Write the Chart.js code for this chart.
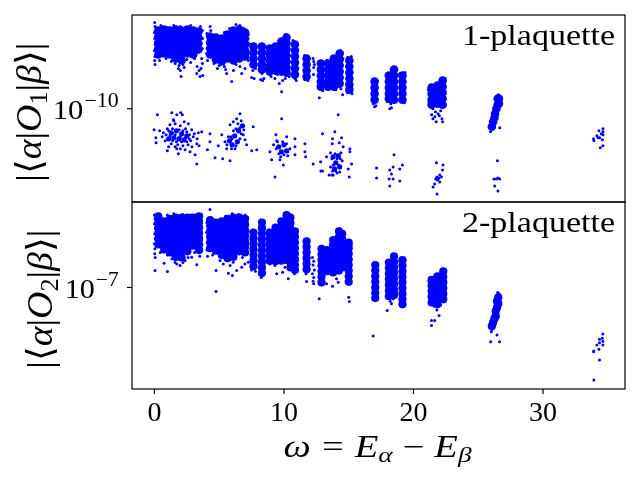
<!DOCTYPE html>
<html><head><meta charset="utf-8">
<script src="https://cdn.jsdelivr.net/npm/chart.js@4"></script>
<style>html,body{margin:0;padding:0;background:#fff;}canvas{display:block;}</style>
</head><body>
<canvas id="c" width="640" height="480"></canvas>
<script>
// ---------------- DATA ----------------
// x = omega = E_alpha - E_beta ; values given as log10 |<alpha|O|beta>|
const omegaTicks = [0, 10, 20, 30];
const panelNames = ['1-plaquette', '2-plaquette'];
const yTickExponents = [-10, -7];
const omegaRange = [-1.73, 36.33];
const top1LogRange = [-10.93, -9.066];
const bot2LogRange = [-7.814, -6.315];

// 1-plaquette: dense clusters, grouped by omega column
const top1Dense = [
 [0.3,[-9.22,-9.28,-9.34,-9.40,-9.46]],[0.75,[-9.21,-9.27,-9.33,-9.39,-9.45]],
 [1.2,[-9.22,-9.28,-9.34,-9.40,-9.46]],[1.65,[-9.21,-9.27,-9.33,-9.39,-9.45,-9.50]],
 [2.1,[-9.22,-9.28,-9.34,-9.40,-9.46,-9.52]],[2.55,[-9.21,-9.27,-9.33,-9.39,-9.45]],
 [3.0,[-9.22,-9.28,-9.34,-9.40,-9.46]],[3.4,[-9.23,-9.29,-9.35,-9.41]],
 [4.3,[-9.28,-9.34,-9.40,-9.46]],[4.75,[-9.29,-9.35,-9.41,-9.47,-9.51]],
 [5.2,[-9.30,-9.36,-9.42,-9.48,-9.53]],[5.65,[-9.26,-9.32,-9.38,-9.44,-9.50]],
 [6.1,[-9.22,-9.28,-9.34,-9.40,-9.46,-9.52]],[6.55,[-9.21,-9.27,-9.33,-9.39,-9.45,-9.50]],
 [7.0,[-9.24,-9.30,-9.36,-9.42,-9.48]],[7.65,[-9.38,-9.44,-9.50,-9.56]],
 [8.3,[-9.38,-9.44,-9.50,-9.56,-9.61]],[8.9,[-9.40,-9.46,-9.52,-9.58,-9.63]],
 [9.35,[-9.38,-9.44,-9.50,-9.56,-9.62]],[9.8,[-9.33,-9.39,-9.45,-9.51,-9.57,-9.63]],
 [10.2,[-9.29,-9.35,-9.41,-9.47,-9.53,-9.59,-9.64]],[10.85,[-9.36,-9.42,-9.48,-9.54,-9.60,-9.66]],
 [11.75,[-9.50,-9.56,-9.62,-9.68]],[12.85,[-9.55,-9.61,-9.67,-9.73,-9.78]],
 [13.4,[-9.55,-9.61,-9.67,-9.73,-9.78]],[13.85,[-9.50,-9.56,-9.62,-9.68,-9.74,-9.78]],
 [14.3,[-9.45,-9.51,-9.57,-9.63,-9.69,-9.75]],[15.05,[-9.52,-9.58,-9.64,-9.70,-9.76,-9.81]],
 [17.0,[-9.73,-9.79,-9.85,-9.91]],[18.1,[-9.67,-9.73,-9.79,-9.85,-9.90]],
 [18.5,[-9.61,-9.67,-9.73,-9.79,-9.85,-9.91]],[19.15,[-9.67,-9.73,-9.79,-9.85,-9.91]],
 [21.4,[-9.79,-9.85,-9.91,-9.96]],[21.85,[-9.77,-9.83,-9.89,-9.95]],
 [22.25,[-9.72,-9.78,-9.84,-9.90,-9.96]],
 [26.6,[-9.90,-9.95]],[26.5,[-9.90,-9.96]],[26.4,[-10.0]],[26.3,[-10.05]],
 [26.25,[-10.09]],[26.15,[-10.13]],[26.05,[-10.18]]
];
// 1-plaquette: lower band cluster centres
const top1Mid = [
 [1.1,[-10.30]],[1.3,[-10.24]],[1.5,[-10.29]],[1.7,[-10.22]],[1.9,[-10.30]],[2.1,[-10.25]],
 [2.3,[-10.31]],[2.5,[-10.27]],
 [5.8,[-10.32]],[6.0,[-10.36]],[6.2,[-10.27]],[6.4,[-10.33]],[6.5,[-10.22]],[6.8,[-10.17]],
 [9.6,[-10.38]],[9.8,[-10.43]],[10.0,[-10.36]],[10.2,[-10.42]],
 [13.8,[-10.48]],[13.9,[-10.60]],[14.0,[-10.54]],[14.2,[-10.47]],[14.3,[-10.58]]
];
// 1-plaquette: individual scattered points [omega, log10]
const top1Sparse = [
 [0.02,-9.14],[0.05,-9.18],[0.0,-9.24],[0.03,-9.30],[0.06,-9.36],[0.0,-9.42],[0.04,-9.48],[0.02,-9.52],[0.05,-9.56],
 [0.5,-9.17],[1.0,-9.19],[1.5,-9.17],[2.0,-9.18],[2.4,-9.19],[2.8,-9.17],[3.55,-9.18],[3.6,-9.21],
 [0.4,-9.52],[0.9,-9.50],[1.3,-9.53],[1.6,-9.55],[1.9,-9.57],[2.0,-9.62],[2.2,-9.56],[2.5,-9.51],[2.8,-9.54],
 [3.1,-9.50],[3.3,-9.58],[3.45,-9.62],[3.6,-9.60],[3.7,-9.55],[3.65,-9.50],[3.7,-9.40],[3.72,-9.30],[3.7,-9.22],
 [2.06,-9.68],[3.27,-9.65],[3.52,-9.68],[3.73,-9.67],[1.85,-9.60],[2.3,-9.59],[1.4,-9.51],
 [4.05,-9.25],[4.1,-9.35],[4.02,-9.45],[4.1,-9.52],[4.3,-9.18],[4.35,-9.22],[4.6,-9.55],[5.0,-9.57],[5.4,-9.58],[5.5,-9.61],
 [5.97,-9.73],[5.58,-9.65],[4.86,-9.60],[6.74,-9.65],[7.0,-9.60],[6.3,-9.56],[6.6,-9.58],[6.1,-9.62],
 [6.3,-9.16],[6.6,-9.17],[6.9,-9.20],[7.25,-9.26],[7.3,-9.35],[7.28,-9.45],[5.8,-9.20],[5.4,-9.24],[7.25,-9.52],
 [7.5,-9.69],[7.7,-9.70],[8.2,-9.71],[8.35,-9.72],[8.45,-9.70],[7.55,-9.36],[7.85,-9.40],[8.15,-9.36],[8.45,-9.38],
 [7.6,-9.62],[8.3,-9.65],[7.8,-9.60],[8.4,-9.60],
 [9.0,-9.68],[9.3,-9.70],[9.5,-9.66],[9.82,-9.83],[9.64,-9.75],[9.9,-9.72],[10.1,-9.70],[10.4,-9.68],[10.95,-9.72],
 [10.7,-9.32],[10.1,-9.26],[9.9,-9.30],[8.75,-9.38],[8.8,-9.60],[10.9,-9.34],[10.6,-9.66],[10.85,-9.70],
 [11.6,-9.47],[11.9,-9.49],[11.6,-9.71],[11.85,-9.72],
 [12.25,-9.50],[12.3,-9.53],[12.35,-9.56],[12.28,-9.66],[12.3,-9.59],
 [12.7,-9.53],[13.0,-9.55],[12.7,-9.80],[13.0,-9.82],[12.73,-9.89],
 [13.3,-9.52],[14.5,-9.44],[14.35,-9.42],[14.55,-9.50],[13.5,-9.80],[14.0,-9.81],[14.4,-9.80],[14.53,-9.86],[14.19,-10.06],[13.7,-9.49],
 [14.9,-9.49],[15.2,-9.48],[15.25,-9.85],[14.9,-9.84],
 [16.85,-9.71],[17.2,-9.72],[16.9,-9.95],[17.1,-9.97],[17.0,-9.98],
 [17.95,-9.66],[18.6,-9.59],[18.65,-9.65],[18.0,-9.93],[18.3,-9.99],[18.17,-10.0],[18.25,-9.95],[18.65,-9.93],
 [18.95,-9.65],[19.35,-9.64],[19.0,-9.93],[19.3,-9.94],
 [21.15,-9.81],[21.2,-9.93],[22.45,-9.70],[22.4,-9.74],[21.5,-10.0],[21.7,-10.03],[21.9,-10.05],[22.1,-10.02],
 [21.4,-10.06],[21.65,-10.08],[22.0,-10.07],[22.2,-10.10],[21.5,-10.10],[21.75,-10.13],[22.25,-10.13],
 [25.95,-10.23],[26.0,-10.20],[26.1,-10.19],[26.6,-9.87],[26.65,-9.90],[26.55,-9.86],[26.3,-10.0],[26.66,-10.19],
 [33.9,-10.30],[33.93,-10.32],[34.16,-10.27],[34.32,-10.22],[34.37,-10.29],[34.5,-10.25],[34.63,-10.20],[34.63,-10.23],
 [34.63,-10.26],[34.58,-10.31],[34.42,-10.39],[34.63,-10.37],[34.25,-10.29],
 [-0.02,-10.21],[0.23,-10.06],[0.11,-10.29],[0.13,-10.34],[0.69,-10.24],[0.83,-10.32],[1.0,-10.42],[1.34,-10.04],
 [1.47,-10.11],[1.73,-10.06],[2.03,-10.04],[2.16,-10.06],[2.62,-10.15],[2.88,-10.21],[3.08,-10.25],[3.39,-10.24],
 [3.65,-10.23],[3.27,-10.35],[3.45,-10.37],[3.14,-10.46],[3.27,-10.55],[2.37,-10.41],[1.73,-10.40],[1.85,-10.45],[2.75,-10.43],
 [1.0,-10.20],[1.2,-10.16],[1.6,-10.15],[2.0,-10.17],[2.4,-10.20],[2.7,-10.26],[2.8,-10.32],[2.6,-10.36],[2.2,-10.37],
 [1.8,-10.36],[1.3,-10.35],[0.9,-10.26],[1.5,-10.12],[2.3,-10.13],
 [1.1,-10.22],[1.4,-10.20],[1.9,-10.21],[2.2,-10.22],[2.5,-10.23],[1.2,-10.27],[1.6,-10.26],[2.0,-10.28],[2.4,-10.29],
 [2.7,-10.30],[1.4,-10.32],[1.7,-10.33],[2.1,-10.33],[2.5,-10.33],[0.6,-10.28],[0.4,-10.22],[3.0,-10.28],[3.3,-10.30],
 [2.9,-10.38],[1.1,-10.38],[1.6,-10.38],[2.0,-10.40],
 [4.29,-10.25],[4.29,-10.33],[4.09,-10.41],[4.68,-10.49],[5.27,-10.50],[5.84,-10.52],[4.93,-10.37],[6.61,-10.05],
 [6.35,-10.10],[6.09,-10.13],[7.12,-10.36],[7.51,-10.42],[7.9,-10.41],[7.63,-10.18],[5.45,-10.33],[5.58,-10.40],
 [6.86,-10.26],[7.0,-10.31],[5.2,-10.26],[6.22,-10.40],[6.48,-10.23],[5.84,-10.16],
 [5.9,-10.28],[6.1,-10.22],[6.3,-10.20],[6.6,-10.19],[6.7,-10.25],[6.9,-10.21],[6.0,-10.30],[5.6,-10.36],[5.7,-10.28],
 [6.3,-10.37],[6.6,-10.30],[5.95,-10.40],[6.45,-10.15],[6.7,-10.12],
 [9.82,-10.10],[9.38,-10.26],[9.44,-10.32],[8.92,-10.43],[10.85,-10.30],[10.85,-10.38],[10.85,-10.46],[9.31,-10.68],
 [9.05,-10.51],[9.95,-10.56],[10.21,-10.28],[10.46,-10.40],[9.69,-10.51],[11.62,-10.35],[11.62,-10.43],[11.67,-10.48],
 [9.2,-10.36],[10.3,-10.47],
 [9.4,-10.40],[9.6,-10.45],[10.0,-10.46],[10.2,-10.35],[9.9,-10.33],[9.5,-10.33],[9.75,-10.48],[10.3,-10.43],
 [12.26,-10.55],[12.98,-10.25],[12.83,-10.53],[12.85,-10.62],[12.98,-10.62],
 [13.93,-10.23],[13.75,-10.30],[14.45,-10.29],[14.27,-10.34],[13.73,-10.35],[14.57,-10.38],[15.09,-10.40],[15.09,-10.43],
 [15.22,-10.55],[14.96,-10.60],[15.04,-10.68],[13.49,-10.66],[13.8,-10.66],[13.29,-10.48],[13.6,-10.44],[14.4,-10.44],
 [14.5,-10.52],[13.6,-10.58],[14.1,-10.64],[13.7,-10.66],
 [13.7,-10.50],[14.1,-10.50],[13.8,-10.56],[14.2,-10.56],[14.35,-10.50],[13.95,-10.45],[14.0,-10.62],[13.75,-10.62],[14.3,-10.63],
 [17.15,-10.59],[17.15,-10.69],[18.17,-10.61],[18.3,-10.65],[18.12,-10.70],[18.5,-10.46],[18.94,-10.60],[19.15,-10.56],
 [18.94,-10.72],[18.17,-10.77],[18.43,-10.70],[18.43,-10.58],
 [21.77,-10.54],[22.28,-10.56],[22.24,-10.61],[22.03,-10.66],[21.9,-10.70],[21.72,-10.70],[21.64,-10.75],[22.03,-10.73],
 [21.51,-10.78],[21.82,-10.85],[22.16,-10.68],[21.85,-10.71],[21.95,-10.69],[21.8,-10.68],
 [26.48,-10.52],[26.21,-10.70],[26.4,-10.70],[26.52,-10.69],[26.66,-10.70],[26.27,-10.77],[26.52,-10.82]
];

// 2-plaquette: dense clusters, grouped by omega column
const bot2Dense = [
 [0.3,[-6.43,-6.475,-6.52,-6.565,-6.61,-6.655]],[0.75,[-6.47,-6.515,-6.56,-6.605,-6.65,-6.695]],
 [1.2,[-6.45,-6.495,-6.54,-6.585,-6.63,-6.675,-6.72]],[1.65,[-6.44,-6.485,-6.53,-6.575,-6.62,-6.665,-6.71,-6.755]],
 [2.1,[-6.44,-6.485,-6.53,-6.575,-6.62,-6.665,-6.71,-6.76]],[2.55,[-6.44,-6.485,-6.53,-6.575,-6.62,-6.665,-6.71]],
 [3.0,[-6.44,-6.485,-6.53,-6.575,-6.62,-6.665]],[3.45,[-6.43,-6.475,-6.52,-6.565,-6.61,-6.655,-6.70]],
 [4.3,[-6.46,-6.505,-6.55,-6.595,-6.64,-6.685]],[4.75,[-6.48,-6.525,-6.57,-6.615,-6.66,-6.705]],
 [5.2,[-6.47,-6.515,-6.56,-6.605,-6.65,-6.695,-6.74]],[5.65,[-6.45,-6.495,-6.54,-6.585,-6.63,-6.675,-6.72,-6.765]],
 [6.1,[-6.44,-6.485,-6.53,-6.575,-6.62,-6.665,-6.71,-6.755]],[6.55,[-6.44,-6.485,-6.53,-6.575,-6.62,-6.665,-6.71]],
 [7.0,[-6.45,-6.495,-6.54,-6.585,-6.63,-6.675,-6.72]],[7.65,[-6.56,-6.605,-6.65,-6.695,-6.74,-6.785,-6.83]],
 [8.3,[-6.48,-6.525,-6.57,-6.615,-6.66,-6.705,-6.75,-6.795,-6.84,-6.885]],
 [8.9,[-6.56,-6.605,-6.65,-6.695,-6.74,-6.785]],[9.35,[-6.52,-6.565,-6.61,-6.655,-6.70,-6.745,-6.79]],
 [9.8,[-6.47,-6.515,-6.56,-6.605,-6.65,-6.695,-6.74,-6.785]],
 [10.2,[-6.42,-6.465,-6.51,-6.555,-6.60,-6.645,-6.69,-6.735,-6.78]],
 [10.5,[-6.44,-6.485,-6.53,-6.575,-6.62,-6.665,-6.71,-6.755,-6.80,-6.84]],
 [10.85,[-6.55,-6.595,-6.64,-6.685,-6.73,-6.775,-6.82,-6.86]],[11.75,[-6.63,-6.675,-6.72,-6.765,-6.81,-6.855]],
 [12.9,[-6.69,-6.735,-6.78,-6.825,-6.87,-6.915,-6.96]],[13.35,[-6.70,-6.745,-6.79,-6.835,-6.87]],
 [13.8,[-6.62,-6.665,-6.71,-6.755,-6.80,-6.845,-6.88]],[14.25,[-6.55,-6.595,-6.64,-6.685,-6.73,-6.775,-6.82,-6.865]],
 [14.5,[-6.57,-6.615,-6.66,-6.705,-6.75,-6.795,-6.84]],[15.0,[-6.64,-6.685,-6.73,-6.775,-6.82,-6.865,-6.91,-6.955]],
 [17.05,[-6.82,-6.865,-6.91,-6.955,-7.0,-7.045,-7.085]],[18.1,[-6.80,-6.845,-6.89,-6.935,-6.98,-7.025,-7.07]],
 [18.5,[-6.75,-6.795,-6.84,-6.885,-6.93,-6.975,-7.02,-7.06]],
 [19.15,[-6.78,-6.825,-6.87,-6.915,-6.96,-7.005,-7.05,-7.095,-7.135]],
 [21.4,[-6.94,-6.985,-7.03,-7.075,-7.12]],[21.85,[-6.91,-6.955,-7.0,-7.045,-7.09,-7.135]],
 [22.3,[-6.87,-6.915,-6.96,-7.005,-7.05,-7.095]],
 [26.55,[-7.08,-7.13]],[26.45,[-7.11,-7.16]],[26.35,[-7.19,-7.23]],[26.25,[-7.25]],[26.15,[-7.28]],[26.05,[-7.31]]
];
// 2-plaquette: individual scattered points [omega, log10]
const bot2Sparse = [
 [0.0,-6.42],[0.05,-6.45],[0.0,-6.49],[0.08,-6.53],[0.02,-6.57],[0.06,-6.61],[0.0,-6.65],[0.04,-6.69],[0.02,-6.73],[0.06,-6.76],
 [0.05,-6.864],[1.0,-6.872],[0.75,-6.806],[1.73,-6.811],[1.98,-6.824],[3.27,-6.819],[2.37,-6.784],[2.88,-6.758],
 [0.45,-6.72],[1.0,-6.74],[1.35,-6.77],[2.6,-6.76],[3.1,-6.72],[3.5,-6.75],[3.65,-6.70],[3.62,-6.60],[3.6,-6.45],
 [3.65,-6.42],[1.0,-6.42],[1.5,-6.41],[2.2,-6.415],[2.8,-6.42],[0.5,-6.44],[1.6,-6.80],[2.2,-6.80],
 [4.29,-6.376],[4.05,-6.48],[4.02,-6.56],[4.08,-6.64],[4.05,-6.70],[4.1,-6.75],
 [4.76,-6.864],[5.71,-6.886],[6.02,-6.904],[6.35,-6.864],[6.74,-6.838],[6.99,-6.811],[7.25,-6.798],[4.76,-7.032],
 [5.07,-6.784],[5.32,-6.811],[5.84,-6.824],[6.09,-6.798],[4.5,-6.74],[6.8,-6.76],
 [5.5,-6.43],[6.0,-6.41],[6.5,-6.415],[7.0,-6.42],[7.2,-6.44],[7.25,-6.55],[7.22,-6.65],
 [7.5,-6.86],[7.8,-6.87],[7.65,-6.55],[8.2,-6.46],[8.45,-6.48],[8.25,-6.92],[8.4,-6.90],
 [8.92,-6.811],[9.31,-6.824],[10.08,-6.838],[10.33,-6.931],[9.44,-6.891],[9.9,-6.878],[10.2,-6.40],[10.5,-6.42],
 [8.8,-6.54],[10.7,-6.55],[10.95,-6.56],[10.8,-6.89],
 [11.75,-6.952],[11.6,-6.62],[11.9,-6.63],[11.7,-6.89],
 [12.2,-6.76],[12.3,-6.79],[12.25,-6.82],[12.35,-6.86],[12.2,-6.89],[12.3,-6.92],[12.25,-6.95],[12.3,-6.97],[12.72,-7.091],
 [12.9,-6.926],[13.29,-6.971],[13.75,-6.99],[14.19,-6.958],[14.06,-6.931],[14.3,-6.53],[14.55,-6.55],[13.6,-6.65],
 [13.2,-6.70],[12.75,-6.68],
 [15.0,-7.078],[15.05,-7.112],[14.8,-6.64],[15.2,-6.66],
 [16.89,-7.39],[16.9,-6.82],[17.2,-6.83],[16.95,-7.09],[17.15,-7.08],
 [17.97,-7.184],[18.3,-7.13],[18.6,-6.74],[18.65,-6.76],[18.0,-7.08],[18.45,-7.09],[18.2,-7.11],
 [18.95,-6.79],[19.35,-6.78],[19.0,-7.12],[19.3,-7.14],
 [21.39,-7.264],[21.64,-7.264],[21.39,-7.304],[21.97,-7.224],[21.8,-7.18],[21.2,-6.95],[22.45,-6.86],[21.6,-7.15],[22.1,-7.14],
 [25.96,-7.435],[26.65,-7.435],[26.45,-7.382],[26.01,-7.355],[26.0,-7.33],[26.05,-7.34],[26.6,-7.05],[26.5,-7.04],[26.6,-7.10],
 [34.62,-7.374],[34.57,-7.408],[34.62,-7.431],[34.36,-7.416],[34.36,-7.443],[34.62,-7.462],[34.16,-7.462],[34.31,-7.496],
 [33.9,-7.515],[33.92,-7.51],[34.36,-7.582],[33.92,-7.742]
];

// ---------------- helpers ----------------
function fromCols(cols){ const out=[]; for (const [x, ls] of cols) for (const l of ls) out.push({x:x, y:Math.pow(10,l)}); return out; }
function fromPairs(arr){ return arr.map(p => ({x:p[0], y:Math.pow(10,p[1])})); }

const SERIF = '"Liberation Serif", "DejaVu Serif", "Times New Roman", serif';
function fnt(s){ return (s.it ? 'italic ' : '') + s.size + 'px ' + SERIF; }
function segW(ctx, s){ if (s.gap !== undefined) return s.gap; ctx.font = fnt(s); return ctx.measureText(s.t).width; }
function drawRich(ctx, segs, x, y, o){
  let nat = 0; for (const s of segs) nat += segW(ctx, s);
  const sx = o.width ? o.width / nat : 1;
  const W = nat * sx;
  ctx.save();
  ctx.translate(x, y);
  if (o.rot) ctx.rotate(o.rot);
  const start = o.align === 'center' ? -W/2 : (o.align === 'right' ? -W : 0);
  ctx.translate(start, 0);
  ctx.scale(sx, 1);
  ctx.fillStyle = '#000'; ctx.textAlign = 'left'; ctx.textBaseline = 'alphabetic';
  let cx = 0;
  for (const s of segs){
    const w = segW(ctx, s);
    if (s.gap === undefined){ ctx.font = fnt(s); ctx.fillText(s.t, cx, s.dy || 0); }
    cx += w;
  }
  ctx.restore();
}
function yTitle(sub){
  return [{t:'|',size:36},{t:'⟨',size:36},{t:'α',size:36,it:1},{t:'|',size:36},{t:'O',size:36,it:1},
          {t:sub,size:25,dy:6},{t:'|',size:36},{t:'β',size:36,it:1},{t:'⟩',size:36},{t:'|',size:36}];
}
const xTitleSegs = [{t:'ω',size:31,it:1},{gap:9},{t:'=',size:31},{gap:9},{t:'E',size:31,it:1},
  {t:'α',size:22,it:1,dy:5},{gap:8},{t:'−',size:31},{gap:8},{t:'E',size:31,it:1},{t:'β',size:22,it:1,dy:5}];

const overlay = {
  id: 'overlay',
  afterDraw(chart){
    const ctx = chart.ctx, xs = chart.scales.x, ca = chart.chartArea;
    const panels = [
      {s: chart.scales.yTop, exp: yTickExponents[0], name: panelNames[0], sub:'1', tickW:66, titleX:41},
      {s: chart.scales.yBot, exp: yTickExponents[1], name: panelNames[1], sub:'2', tickW:54, titleX:51.5}
    ];
    ctx.save();
    ctx.strokeStyle = '#000'; ctx.lineWidth = 1.2;
    for (const p of panels){
      const s = p.s;
      ctx.strokeRect(ca.left, s.top, ca.right - ca.left, s.bottom - s.top);
      const ty = s.getPixelForValue(Math.pow(10, p.exp));
      ctx.beginPath(); ctx.moveTo(ca.left - 5, ty); ctx.lineTo(ca.left, ty); ctx.stroke();
      drawRich(ctx, [{t:'10',size:28},{gap:1},{t:'−' + Math.abs(p.exp),size:20,dy:-12}], ca.left - 13.3, ty + 10.3, {align:'right', width:p.tickW});
      drawRich(ctx, [{t:p.name,size:30}], ca.right - 10, s.top + 30, {align:'right', width:153});
      drawRich(ctx, yTitle(p.sub), p.titleX, (s.top + s.bottom)/2 + 3.7, {align:'center', width:139, rot:-Math.PI/2});
    }
    ctx.fillStyle = '#000';
    for (const v of omegaTicks){
      const px = xs.getPixelForValue(v);
      ctx.beginPath(); ctx.moveTo(px, ca.bottom); ctx.lineTo(px, ca.bottom + 5); ctx.stroke();
      ctx.font = '28px ' + SERIF; ctx.textAlign = 'center'; ctx.textBaseline = 'alphabetic';
      ctx.fillText(String(v), px, ca.bottom + 32);
    }
    drawRich(ctx, xTitleSegs, (ca.left + ca.right)/2 - 1, 457, {align:'center', width:188});
    ctx.restore();
  }
};

const BLUE = '#0000ff';
function ds(data, axis, r){
  return {data: data, yAxisID: axis, pointRadius: r, pointHoverRadius: r, pointBackgroundColor: BLUE,
          pointBorderColor: BLUE, pointBorderWidth: 0, showLine: false};
}
const hidden = {ticks:{display:false}, grid:{display:false}, border:{display:false}, title:{display:false}};

new Chart(document.getElementById('c').getContext('2d'), {
  type: 'scatter',
  data: {datasets: [
    ds(fromCols(top1Dense), 'yTop', 4.3),
    ds(fromCols(top1Mid), 'yTop', 2.6),
    ds(fromPairs(top1Sparse), 'yTop', 1.5),
    ds(fromCols(bot2Dense), 'yBot', 4.1),
    ds(fromPairs(bot2Sparse), 'yBot', 1.5)
  ]},
  options: {
    responsive: false, animation: false, devicePixelRatio: 1, events: [],
    layout: {padding: {top: 15, right: 15, left: 0, bottom: 0}},
    plugins: {legend: {display: false}, tooltip: {enabled: false}},
    scales: {
      x: Object.assign({type:'linear', position:'bottom', min: omegaRange[0], max: omegaRange[1],
           afterFit(s){ s.height = 91; }}, hidden),
      yBot: Object.assign({type:'logarithmic', position:'left', stack:'panels', stackWeight:1,
           min: Math.pow(10, bot2LogRange[0]), max: Math.pow(10, bot2LogRange[1]),
           afterFit(s){ s.width = 132; }}, hidden),
      yTop: Object.assign({type:'logarithmic', position:'left', stack:'panels', stackWeight:1,
           min: Math.pow(10, top1LogRange[0]), max: Math.pow(10, top1LogRange[1]),
           afterFit(s){ s.width = 132; }}, hidden)
    }
  },
  plugins: [overlay]
});
</script>
</body></html>
